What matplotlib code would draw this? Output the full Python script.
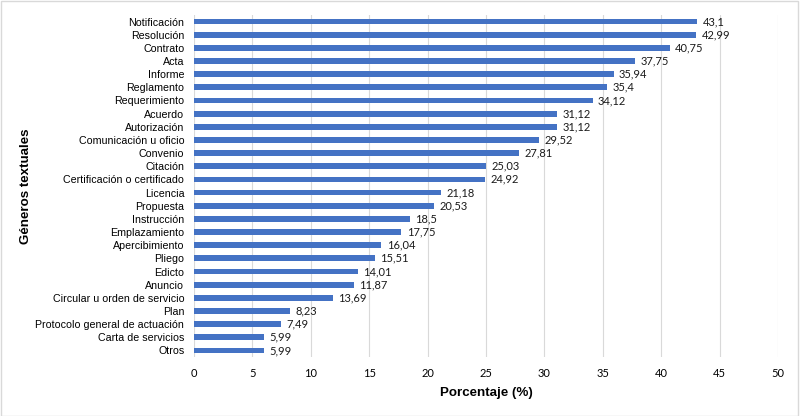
import matplotlib
matplotlib.use("Agg")
import matplotlib.pyplot as plt
from matplotlib.patches import Rectangle

categorias = ["Notificación", "Resolución", "Contrato", "Acta", "Informe", "Reglamento",
              "Requerimiento", "Acuerdo", "Autorización", "Comunicación u oficio", "Convenio",
              "Citación", "Certificación o certificado", "Licencia", "Propuesta", "Instrucción",
              "Emplazamiento", "Apercibimiento", "Pliego", "Edicto", "Anuncio",
              "Circular u orden de servicio", "Plan", "Protocolo general de actuación",
              "Carta de servicios", "Otros"]
# bar lengths as drawn (Anuncio / Circular bars do not match their labels in the original)
porcentajes = [43.1, 42.99, 40.75, 37.75, 35.94, 35.4, 34.12, 31.12, 31.12, 29.52, 27.81,
               25.03, 24.92, 21.18, 20.53, 18.5, 17.75, 16.04, 15.51, 14.01, 13.69, 11.87,
               8.23, 7.49, 5.99, 5.99]
etiquetas = ["43,1", "42,99", "40,75", "37,75", "35,94", "35,4", "34,12", "31,12", "31,12",
             "29,52", "27,81", "25,03", "24,92", "21,18", "20,53", "18,5", "17,75", "16,04",
             "15,51", "14,01", "11,87", "13,69", "8,23", "7,49", "5,99", "5,99"]
xticks = [0, 5, 10, 15, 20, 25, 30, 35, 40, 45, 50]

plt.rcParams['font.family'] = ['Liberation Sans', 'DejaVu Sans']

fig = plt.figure(figsize=(8, 4.16), dpi=100)
ax = fig.add_axes([0.2425, 0.1418, 0.73, 0.8222])

pos = list(range(len(categorias)))
ax.barh(pos, porcentajes, height=0.44, color='#4472C4', zorder=3)
for p, v, t in zip(pos, porcentajes, etiquetas):
    ax.text(v + 0.45, p, t, va='center', ha='left', fontsize=8, color='#1a1a1a',
            family=['Lato', 'DejaVu Sans'])

ax.set_yticks(pos)
ax.set_yticklabels(categorias, fontsize=7.65)
ax.set_ylim(len(categorias) - 0.5, -0.5)
ax.set_xlim(0, 50)
ax.set_xticks(xticks)
ax.set_xticklabels([str(x) for x in xticks], fontsize=8, family=['Lato', 'DejaVu Sans'])
ax.tick_params(length=0)
ax.tick_params(axis='y', pad=7)
ax.tick_params(axis='x', pad=8)
ax.grid(axis='x', color='#D9D9D9', linewidth=0.8, zorder=0)
for s in ax.spines.values():
    s.set_visible(False)

ax.set_xlabel("Porcentaje (%)", fontsize=9.6, fontweight='bold', labelpad=6)
ax.set_ylabel("Géneros textuales", fontsize=9.6, fontweight='bold')
ax.yaxis.set_label_coords(-0.278, 0.5)

fig.patches.append(Rectangle((0.001, 0.001), 0.997, 0.996, transform=fig.transFigure,
                             fill=False, edgecolor='#D9D9D9', linewidth=1))

fig.savefig("out.png", dpi=100)
